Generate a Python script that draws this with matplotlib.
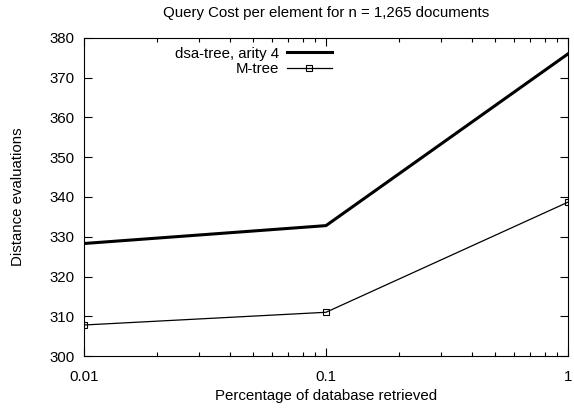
import matplotlib
matplotlib.use("Agg")
import matplotlib.pyplot as plt

plt.rcParams['font.family'] = ['Liberation Sans', 'DejaVu Sans']
plt.rcParams['font.size'] = 10.8

fraction = [0.01, 0.1, 1]
dsa_tree = [328.3, 332.8, 376.0]
m_tree = [307.8, 311.0, 338.7]

fig = plt.figure(figsize=(5.74, 4.12), dpi=100)
ax = fig.add_axes([0.1463, 0.1359, 0.8432, 0.7719])

ax.plot(fraction, dsa_tree, color='black', lw=2.2, label='dsa-tree, arity 4')
ax.plot(fraction, m_tree, color='black', lw=0.9, marker='s', ms=4.5,
        mfc='none', mew=0.8, label='M-tree')

ax.set_xscale('log')
ax.set_xlim(0.01, 1)
ax.set_ylim(300, 380)
ax.set_xticks([0.01, 0.1, 1])
ax.set_xticklabels(['0.01', '0.1', '1'])
ax.set_yticks(range(300, 381, 10))
ax.tick_params(which='both', direction='in', top=True, right=True)
ax.tick_params(which='major', length=6, width=0.8, labelsize=10.8)
ax.tick_params(axis='x', pad=10)
ax.tick_params(axis='y', pad=7)
ax.tick_params(which='minor', length=3, width=0.8)

ax.set_title('Query Cost per element for n = 1,265 documents', fontsize=10.8, pad=15)
ax.set_xlabel('Percentage of database retrieved', fontsize=10.8, labelpad=4)
ax.set_ylabel('Distance evaluations', fontsize=10.8, labelpad=17)

ax.legend(loc='upper left', bbox_to_anchor=(0.16, 1.015), frameon=False,
          markerfirst=False, handlelength=3.0, fontsize=10.8,
          labelspacing=0.1, handletextpad=0.5)

fig.savefig('out.png', dpi=100)
